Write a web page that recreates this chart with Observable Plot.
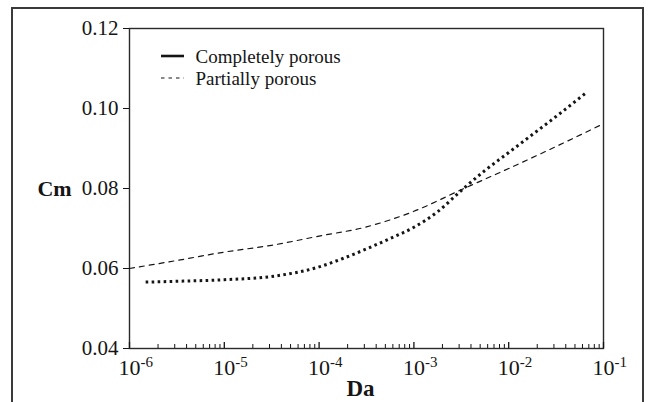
<!DOCTYPE html>
<html>
<head>
<meta charset="utf-8">
<script src="https://cdn.jsdelivr.net/npm/d3@7"></script>
<script src="https://cdn.jsdelivr.net/npm/@observablehq/plot@0.6"></script>
<style>
  html, body { margin: 0; padding: 0; background: #fff; overflow: hidden; }
  #wrap { position: relative; width: 650px; height: 402px; }
  #border { position: absolute; left: 11px; top: 7px; width: 629px; height: 400px;
            border: 2px solid #3a3a3a; border-bottom: none; }
  #chart { position: absolute; left: 0; top: 0; }
</style>
</head>
<body>
<div id="wrap"><div id="border"></div><div id="chart"></div></div>
<script>
// Completely porous (thick dotted curve)
const daComplete = [1.48e-6, 3.16e-6, 1e-5, 3.16e-5, 1e-4, 1.78e-4, 3.16e-4, 5.62e-4, 1e-3, 1.78e-3, 3.16e-3, 5.62e-3, 1e-2, 1.78e-2, 3.16e-2, 6.46e-2];
const cmComplete = [0.0566, 0.0568, 0.0572, 0.0580, 0.0604, 0.0625, 0.0649, 0.0675, 0.0703, 0.0742, 0.0795, 0.0845, 0.0890, 0.0935, 0.0980, 0.1038];
// Partially porous (thin dashed curve)
const daPartial = [1e-6, 3.16e-6, 1e-5, 3.16e-5, 1e-4, 3.16e-4, 1e-3, 3.16e-3, 1e-2, 3.16e-2, 1e-1];
const cmPartial = [0.0600, 0.0620, 0.0641, 0.0658, 0.0681, 0.0704, 0.0743, 0.0797, 0.0850, 0.0905, 0.0962];

const seriesNames = ["Completely porous", "Partially porous"];
const decadeTicks = [1e-6, 1e-5, 1e-4, 1e-3, 1e-2, 1e-1];
const decadeExponents = ["-6", "-5", "-4", "-3", "-2", "-1"];
const yTicks = [0.04, 0.06, 0.08, 0.10, 0.12];
const xLabel = "Da";
const yLabel = "Cm";

const complete = daComplete.map((d, i) => ({da: d, cm: cmComplete[i]}));
const partial = daPartial.map((d, i) => ({da: d, cm: cmPartial[i]}));
const minorTicks = [];
for (let k = 0; k < decadeTicks.length - 1; k++)
  for (let m = 2; m <= 9; m++) minorTicks.push(m * decadeTicks[k]);

const W = 650, H = 402, mL = 129, mR = 47, mT = 28, mB = 54;
const plotH = H - mT - mB;
const ink = "#151515";

const chart = Plot.plot({
  width: W, height: H,
  marginLeft: mL, marginRight: mR, marginTop: mT, marginBottom: mB,
  style: {fontFamily: "'Liberation Serif', 'Times New Roman', serif", fontSize: "21px", color: ink, background: "transparent"},
  x: {type: "log", domain: [1e-6, 1e-1]},
  y: {domain: [0.04, 0.12]},
  marks: [
    Plot.frame({stroke: "#2a2a2a", strokeWidth: 1.4}),
    Plot.tickX(minorTicks, {x: d => d, insetTop: plotH - 4, stroke: ink, strokeWidth: 1}),
    Plot.tickX(decadeTicks, {x: d => d, insetTop: plotH - 6, stroke: ink, strokeWidth: 1.3}),
    Plot.axisX({ticks: decadeTicks, tickSize: 0, tickPadding: 11, fontSize: 22,
                tickFormat: d => "10^" + decadeExponents[decadeTicks.indexOf(d)], label: null}),
    Plot.axisY({ticks: yTicks, tickSize: 6, tickPadding: 5, fontSize: 21,
                tickFormat: d3.format(".2f"), label: null}),
    Plot.line(partial, {x: "da", y: "cm", curve: "monotone-x", stroke: ink,
                        strokeWidth: 1.2, strokeDasharray: "5,5"}),
    Plot.line(complete, {x: "da", y: "cm", curve: "monotone-x", stroke: ink,
                         strokeWidth: 3, strokeDasharray: "2.6,3.4", strokeLinecap: "butt"}),
    Plot.text([0.08], {y: d => d, frameAnchor: "left", dx: -75, text: () => yLabel,
                       fontWeight: "bold", fontSize: 22, textAnchor: "middle"}),
    Plot.text([xLabel], {frameAnchor: "bottom", dx: -6, dy: 40, text: d => d,
                         fontWeight: "bold", fontSize: 23, lineAnchor: "middle"}),
    Plot.text([seriesNames[0]], {frameAnchor: "top-left", dx: 66, dy: 28, text: d => d,
                                 textAnchor: "start", lineAnchor: "middle", fontSize: 19}),
    Plot.text([seriesNames[1]], {frameAnchor: "top-left", dx: 66, dy: 50, text: d => d,
                                 textAnchor: "start", lineAnchor: "middle", fontSize: 19})
  ]
});

// Superscript exponents for the decade labels
d3.select(chart).selectAll('g[aria-label="x-axis tick label"] text').each(function() {
  const t = d3.select(this);
  const s = t.text();
  if (!s.includes("^")) return;
  const [base, exp] = s.split("^");
  t.text(null).attr("text-anchor", "start").attr("dx", "-11");
  t.append("tspan").text(base);
  t.append("tspan").attr("dy", "-8").attr("font-size", "15").text(exp);
});

// Legend line samples
const lg = d3.select(chart).append("g").attr("aria-label", "legend swatches");
lg.append("line").attr("x1", mL + 32).attr("x2", mL + 55).attr("y1", mT + 28).attr("y2", mT + 28)
  .attr("stroke", ink).attr("stroke-width", 2.6);
lg.append("line").attr("x1", mL + 32).attr("x2", mL + 55).attr("y1", mT + 50).attr("y2", mT + 50)
  .attr("stroke", ink).attr("stroke-width", 1.1).attr("stroke-dasharray", "3.5,4");

document.getElementById("chart").appendChild(chart);
</script>
</body>
</html>
